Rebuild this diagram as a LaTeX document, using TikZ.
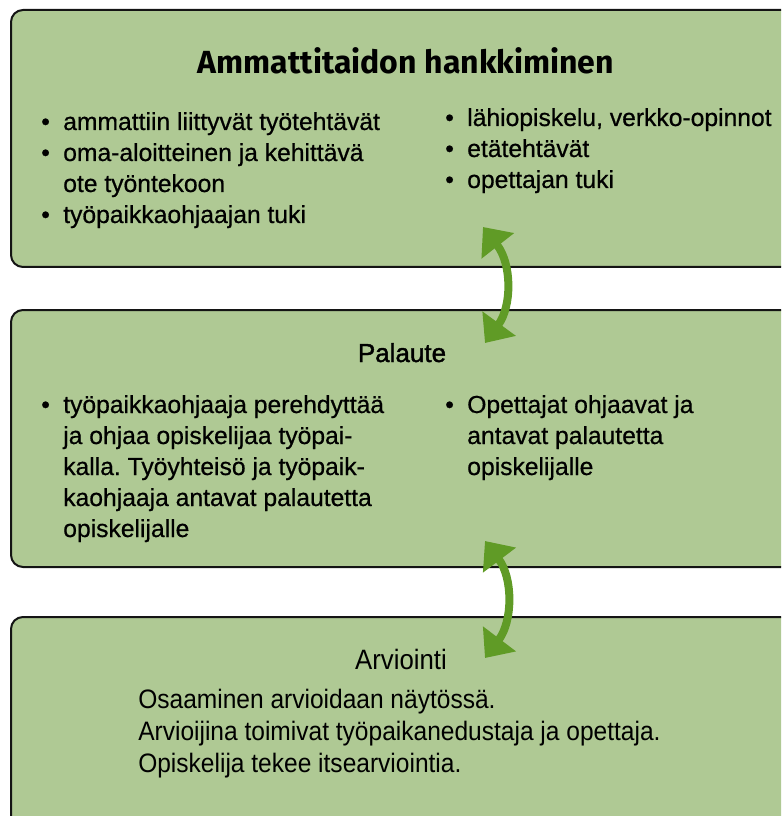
\documentclass[tikz,border=0pt]{standalone}
\usepackage{fontspec}
\setmainfont{Liberation Sans}[FakeBold=0.6]
\newfontfamily\titlefont{Fira Sans}
\newfontfamily\headfont{Liberation Sans}[FakeBold=1.4]
\newfontfamily\narrowfont{Liberation Sans}[FakeStretch=0.92]
\usetikzlibrary{arrows.meta}
\usepackage{xcolor}
\frenchspacing

\definecolor{boxgreen}{RGB}{175,201,148}
\definecolor{arrowgreen}{RGB}{96,155,38}
\newcommand{\bul}{\makebox[16.5pt][l]{\textbullet}}
\newcommand{\ind}{\hspace*{16.5pt}}

\tikzset{
  greenbox/.style={draw={rgb,255:red,20;green,20;blue,20}, line width=1.5pt, fill=boxgreen, rounded corners=9pt},
  bodytext/.style={anchor=base west, inner sep=0pt, align=left, font=\fontsize{18.5pt}{23.25pt}\selectfont},
  headtext/.style={anchor=base, inner sep=0pt, font=\headfont\fontsize{19.5pt}{23.25pt}\selectfont},
  narrowtext/.style={anchor=base west, inner sep=0pt, align=left, font=\narrowfont\fontsize{20pt}{24pt}\selectfont},
  swaparrow/.style={draw=arrowgreen, line width=6pt, {Triangle[length=18pt,width=30pt]}-{Triangle[length=18pt,width=30pt]}}
}

\begin{document}
\begin{tikzpicture}[x=0.75pt,y=0.75pt,yscale=-1,xscale=1]
\clip (0,0) rectangle (781,816);

%Shape: Rectangle [hankkiminen]
\draw [greenbox] (11,10) rectangle (830,267) ;
%Shape: Rectangle [palaute]
\draw [greenbox] (11,310) rectangle (830,567) ;
%Shape: Rectangle [arviointi]
\draw [greenbox] (11,617) rectangle (830,860) ;

% Text Node (base = last line)
\node (hanktitle) [anchor=base, inner sep=0pt, font=\titlefont\bfseries\fontsize{24pt}{28pt}\selectfont] at (406,74) {Ammattitaidon hankkiminen};
% Text Node
\node (hankleft) [bodytext] at (41,223) {\bul ammattiin liittyvät työtehtävät\\ \bul oma-aloitteinen ja kehittävä\\ \ind ote työntekoon\\ \bul työpaikkaohjaajan tuki};
% Text Node
\node (hankright) [bodytext] at (445,188) {\bul lähiopiskelu, verkko-opinnot\\ \bul etätehtävät\\ \bul opettajan tuki};

% Text Node
\node (palhead) [headtext] at (402,362) {Palaute};
% Text Node
\node (palleft) [bodytext] at (41,537) {\bul työpaikkaohjaaja perehdyttää\\ \ind ja ohjaa opiskelijaa työpai-\\ \ind kalla. Työyhteisö ja työpaik-\\ \ind kaohjaaja antavat palautetta\\ \ind opiskelijalle};
% Text Node
\node (palright) [bodytext] at (445,475) {\bul Opettajat ohjaavat ja\\ \ind antavat palautetta\\ \ind opiskelijalle};

% Text Node
\node (arvhead) [anchor=base, inner sep=0pt, font=\narrowfont\fontsize{21pt}{24pt}\selectfont] at (401,669) {Arviointi};
% Text Node
\node (arvtext) [narrowtext] at (138,772) {Osaaminen arvioidaan näytössä.\\ Arvioijina toimivat työpaikanedustaja ja opettaja.\\ Opiskelija tekee itsearviointia.};

%Curve Lines [hankkiminen <-> palaute]
\coordinate (arrA1) at (483,227);
\coordinate (arrA2) at (485,343);
\draw [swaparrow] (arrA1) .. controls (512,264) and (512,306) .. (arrA2) ;
%Curve Lines [palaute <-> arviointi]
\coordinate (arrB1) at (485,541);
\coordinate (arrB2) at (485,658);
\draw [swaparrow] (arrB1) .. controls (513,578) and (513,621) .. (arrB2) ;

\end{tikzpicture}
\end{document}
